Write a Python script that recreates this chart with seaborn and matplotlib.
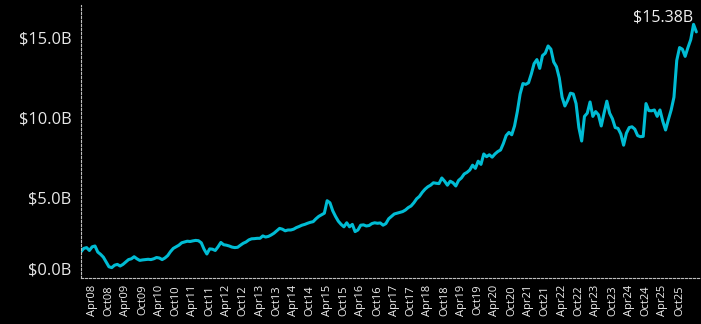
import matplotlib
matplotlib.use("Agg")
import matplotlib.pyplot as plt
import matplotlib.transforms as mtransforms
import numpy as np
import pandas as pd
import seaborn as sns

# Monthly series, December 2007 onward (values in $B)
start_month = "2007-12"
last_tick_month = "2025-10"
values_b = [
    1.64, 1.85, 1.90, 1.72, 1.95, 2.00, 1.62, 1.48, 1.30, 1.00,
    0.70, 0.65, 0.80, 0.85, 0.75, 0.85, 1.00, 1.15, 1.20, 1.33,
    1.20, 1.10, 1.13, 1.15, 1.17, 1.15, 1.20, 1.28, 1.25, 1.15,
    1.25, 1.40, 1.65, 1.85, 1.95, 2.05, 2.20, 2.25, 2.30, 2.28,
    2.32, 2.35, 2.33, 2.20, 1.80, 1.50, 1.82, 1.80, 1.72, 1.95,
    2.22, 2.08, 2.05, 2.00, 1.93, 1.90, 1.92, 2.05, 2.17, 2.25,
    2.38, 2.45, 2.46, 2.48, 2.48, 2.63, 2.56, 2.60, 2.69, 2.80,
    2.95, 3.10, 3.05, 2.95, 3.00, 3.00, 3.05, 3.15, 3.22, 3.30,
    3.35, 3.42, 3.48, 3.52, 3.70, 3.85, 3.95, 4.05, 4.83, 4.70,
    4.20, 3.85, 3.55, 3.35, 3.20, 3.45, 3.20, 3.35, 2.90, 3.00,
    3.30, 3.32, 3.25, 3.28, 3.40, 3.45, 3.42, 3.44, 3.30, 3.40,
    3.70, 3.85, 4.00, 4.05, 4.10, 4.15, 4.25, 4.40, 4.50, 4.70,
    4.95, 5.10, 5.35, 5.55, 5.70, 5.80, 5.95, 5.92, 5.90, 6.25,
    6.05, 5.80, 6.05, 5.95, 5.75, 6.10, 6.25, 6.50, 6.60, 6.75,
    7.05, 6.85, 7.30, 7.10, 7.75, 7.58, 7.70, 7.55, 7.75, 7.90,
    8.00, 8.40, 8.90, 9.10, 8.95, 9.50, 10.40, 11.50, 12.15, 12.10,
    12.20, 12.75, 13.40, 13.65, 13.10, 13.90, 14.05, 14.50, 14.30, 13.50,
    13.20, 12.50, 11.30, 10.75, 11.10, 11.55, 11.50, 10.90, 9.40, 8.56,
    10.10, 10.30, 11.00, 10.10, 10.40, 10.20, 9.50, 10.30, 11.05, 10.30,
    9.95, 9.40, 9.35, 9.00, 8.30, 9.05, 9.40, 9.45, 9.30, 8.90,
    8.83, 8.85, 10.90, 10.46, 10.45, 10.50, 10.10, 10.50, 9.80, 9.25,
    9.90, 10.50, 11.30, 13.60, 14.40, 14.30, 13.85, 14.40, 14.90, 15.85,
    15.38,
]
y_ticks = [0, 5, 10, 15]
y_tick_labels = ["$0.0B", "$5.0B", "$10.0B", "$15.0B"]
last_label = "$15.38B"

months = pd.date_range(start_month, periods=len(values_b), freq="MS")
df = pd.DataFrame({"idx": np.arange(len(values_b)), "value": values_b, "month": months})

sns.set_theme(style="dark")
plt.rcParams["font.family"] = ["Open Sans", "DejaVu Sans"]

W, H = 701, 324
fig = plt.figure(figsize=(W / 100, H / 100), dpi=100, facecolor="black")
ax = fig.add_axes([81 / W, (H - 278) / H, (700 - 81) / W, (278 - 5) / H])
ax.set_facecolor("black")

line_color = "#00bcd4"
sns.lineplot(data=df, x="idx", y="value", ax=ax, color=line_color, linewidth=2.2)

ax.set_xlim(0, (700 - 81) / 2.797)
ax.set_ylim(0, 17.06)
ax.grid(False)

# Tick labels every April and October
tick_mask = df["month"].dt.month.isin([4, 10]) & (df["month"] <= pd.Timestamp(last_tick_month))
ax.set_xticks(df.loc[tick_mask, "idx"])
ax.set_xticklabels(df.loc[tick_mask, "month"].dt.strftime("%b%y"), rotation=90,
                   fontsize=8, color="#f0f0f0")
ax.set_yticks(y_ticks)
ax.set_yticklabels(y_tick_labels, fontsize=11.8, color="#e8e8e8")
ax.tick_params(axis="x", length=0, pad=5)
ax.tick_params(axis="y", length=0, pad=7)

# Lift the zero label so it sits clear of the baseline
zero_label = ax.get_yticklabels()[0]
zero_label.set_transform(zero_label.get_transform() +
                         mtransforms.ScaledTranslation(0, 10 / 100, fig.dpi_scale_trans))

ax.set_xlabel("")
ax.set_ylabel("")

for side in ["top", "right"]:
    ax.spines[side].set_visible(False)
for side in ["left", "bottom"]:
    ax.spines[side].set_visible(True)
    ax.spines[side].set_color("#bdbdbd")
    ax.spines[side].set_linewidth(0.8)
    ax.spines[side].set_linestyle((0, (2, 1.6)))

# Latest value annotation
ax.annotate(last_label, xy=(df["idx"].iloc[-1], values_b[-1]),
            xytext=(-3, 10), textcoords="offset pixels",
            ha="right", va="baseline", fontsize=11.5, color="#f0f0f0",
            annotation_clip=False)

fig.savefig("out.png", dpi=100, facecolor="black")
